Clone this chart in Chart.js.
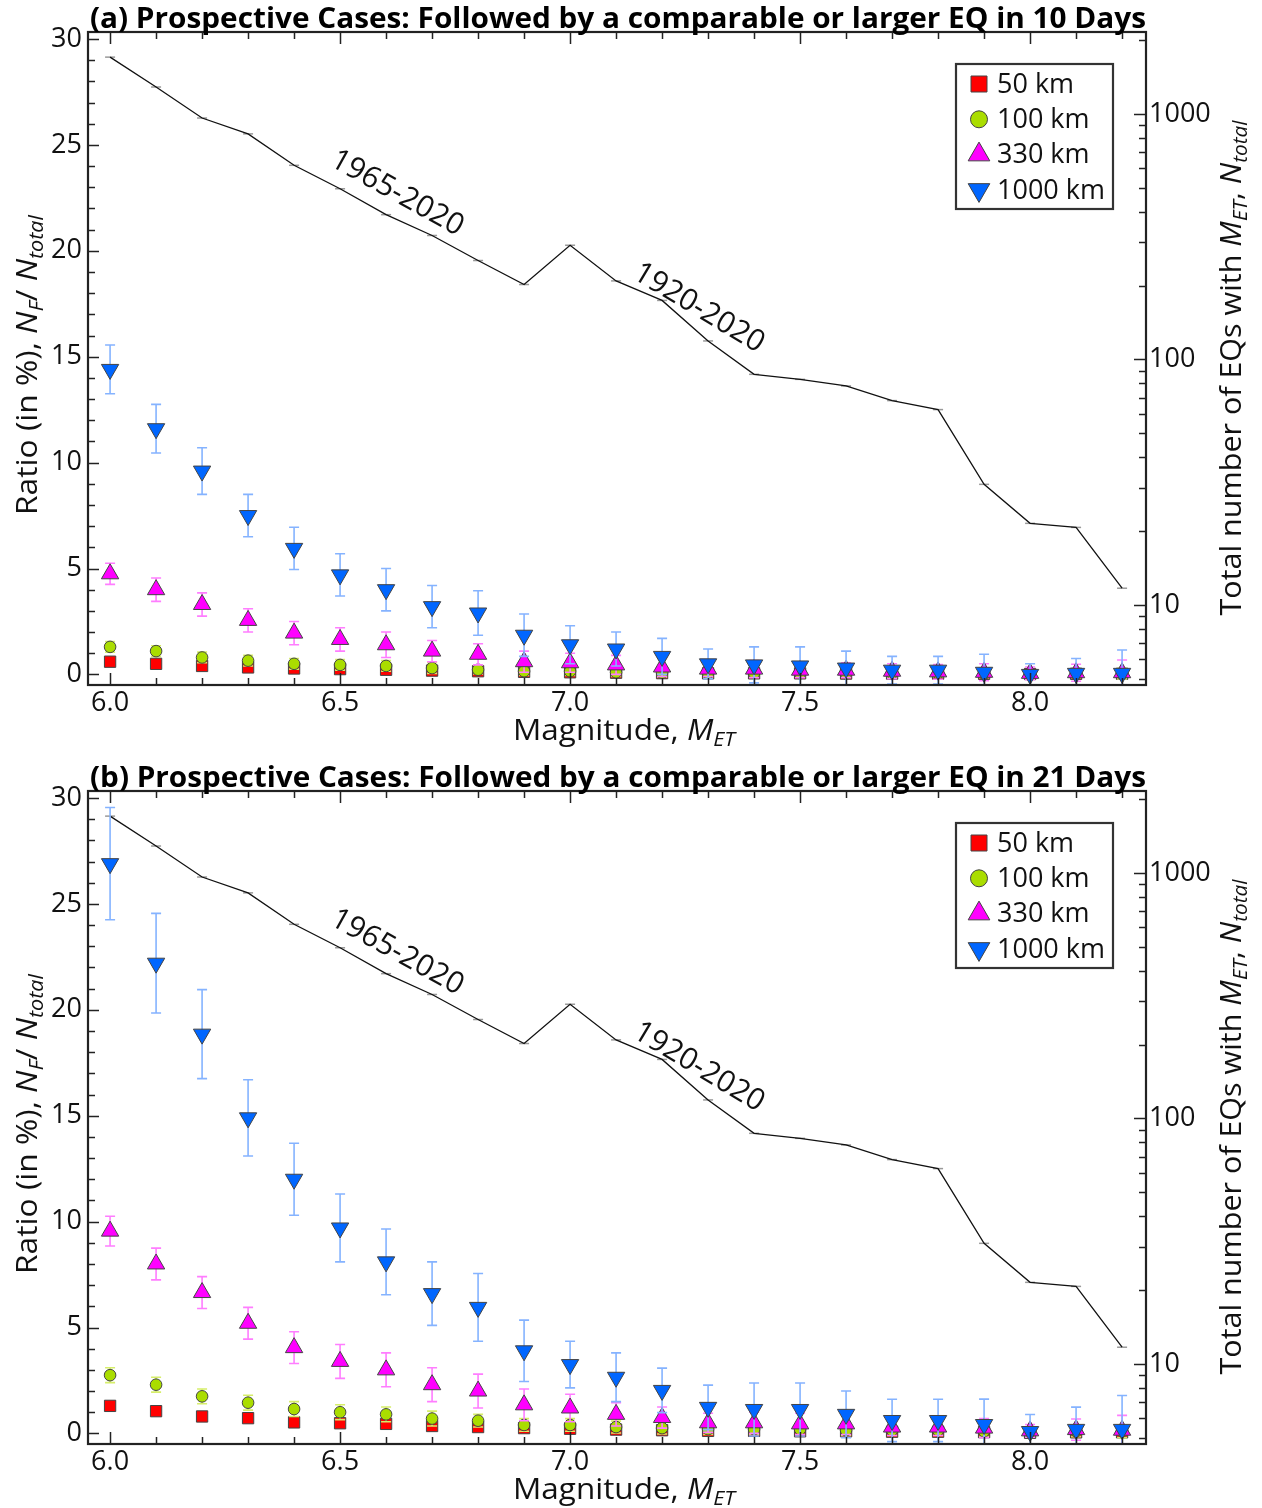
<!DOCTYPE html>
<html>
<head>
<meta charset="utf-8">
<script src="https://cdn.jsdelivr.net/npm/chart.js@4.4.1/dist/chart.umd.min.js"></script>
<style>
  body { margin: 0; background: #fff; }
  .panel { position: absolute; left: 0; width: 1262px; }
</style>
</head>
<body>
<div class="panel" style="top:0;height:759px"><canvas id="chartA"></canvas></div>
<div class="panel" style="top:759px;height:749px"><canvas id="chartB"></canvas></div>
<script>
// magnitudes (x) and tick values
const magnitudes = [6.0, 6.1, 6.2, 6.3, 6.4, 6.5, 6.6, 6.7, 6.8, 6.9, 7.0, 7.1, 7.2, 7.3, 7.4, 7.5, 7.6, 7.7, 7.8, 7.9, 8.0, 8.1, 8.2];
const xTicks = magnitudes;
const ratioTicks = [0, 1, 2, 3, 4, 5, 6, 7, 8, 9, 10, 11, 12, 13, 14, 15, 16, 17, 18, 19, 20, 21, 22, 23, 24, 25, 26, 27, 28, 29, 30];
const countTicks = [5, 6, 7, 8, 9, 10, 20, 30, 40, 50, 60, 70, 80, 90, 100, 200, 300, 400, 500, 600, 700, 800, 900, 1000, 2000];

// total number of EQs with M >= M_ET (right axis, same in both panels)
const totalCount = [1705, 1288, 963, 830, 618, 496, 389, 320, 253, 202, 292, 209, 174, 119, 87, 83, 78, 68, 62.5, 31, 21.5, 20.7, 11.7];

// (a) 10 days
const a50 = [0.6, 0.5, 0.4, 0.33, 0.28, 0.25, 0.22, 0.18, 0.15, 0.12, 0.1, 0.08, 0.06, 0.05, 0.05, 0.05, 0.04, 0.04, 0.04, 0.03, 0.02, 0.03, 0.03];
const a50Err = [0.15, 0.15, 0.14, 0.13, 0.12, 0.12, 0.12, 0.11, 0.11, 0.1, 0.1, 0.1, 0.1, 0.1, 0.1, 0.1, 0.1, 0.1, 0.1, 0.1, 0.1, 0.1, 0.1];
const a100 = [1.3, 1.1, 0.8, 0.65, 0.5, 0.45, 0.4, 0.3, 0.22, 0.15, 0.15, 0.1, 0.08, 0.07, 0.07, 0.06, 0.05, 0.05, 0.05, 0.04, 0.03, 0.04, 0.04];
const a100Err = [0.25, 0.25, 0.25, 0.25, 0.25, 0.25, 0.25, 0.25, 0.2, 0.2, 0.2, 0.2, 0.2, 0.18, 0.18, 0.18, 0.18, 0.18, 0.18, 0.2, 0.15, 0.2, 0.25];
const a330 = [4.75, 4.0, 3.3, 2.55, 1.95, 1.65, 1.4, 1.1, 0.95, 0.6, 0.55, 0.45, 0.35, 0.25, 0.25, 0.2, 0.2, 0.15, 0.12, 0.1, 0.05, 0.08, 0.08];
const a330Err = [0.5, 0.55, 0.55, 0.55, 0.55, 0.55, 0.6, 0.5, 0.5, 0.5, 0.45, 0.45, 0.45, 0.35, 0.4, 0.35, 0.35, 0.35, 0.35, 0.4, 0.3, 0.4, 0.6];
const a1000 = [14.4, 11.6, 9.6, 7.5, 5.95, 4.7, 4.0, 3.2, 2.9, 1.85, 1.4, 1.2, 0.85, 0.5, 0.45, 0.4, 0.3, 0.2, 0.2, 0.1, 0.0, 0.05, 0.05];
const a1000Err = [1.15, 1.15, 1.1, 1.0, 1.0, 1.0, 1.0, 1.0, 1.05, 1.0, 0.9, 0.8, 0.85, 0.7, 0.85, 0.9, 0.8, 0.65, 0.65, 0.85, 0.5, 0.7, 1.1];

// (b) 21 days
const b50 = [1.3, 1.05, 0.8, 0.72, 0.52, 0.48, 0.45, 0.35, 0.3, 0.25, 0.22, 0.18, 0.15, 0.12, 0.12, 0.1, 0.1, 0.08, 0.08, 0.06, 0.03, 0.05, 0.05];
const b50Err = [0.2, 0.2, 0.2, 0.2, 0.2, 0.2, 0.2, 0.2, 0.2, 0.18, 0.18, 0.18, 0.16, 0.15, 0.15, 0.15, 0.15, 0.15, 0.15, 0.15, 0.12, 0.15, 0.15];
const b100 = [2.75, 2.3, 1.75, 1.45, 1.15, 1.0, 0.9, 0.7, 0.6, 0.4, 0.4, 0.3, 0.25, 0.2, 0.2, 0.2, 0.15, 0.15, 0.15, 0.1, 0.05, 0.1, 0.1];
const b100Err = [0.35, 0.35, 0.35, 0.35, 0.35, 0.35, 0.35, 0.35, 0.3, 0.3, 0.3, 0.28, 0.28, 0.25, 0.25, 0.25, 0.25, 0.25, 0.25, 0.25, 0.2, 0.25, 0.3];
const b330 = [9.55, 8.0, 6.65, 5.2, 4.05, 3.4, 3.0, 2.3, 2.0, 1.35, 1.2, 0.9, 0.75, 0.5, 0.5, 0.45, 0.45, 0.3, 0.3, 0.25, 0.12, 0.18, 0.15];
const b330Err = [0.7, 0.75, 0.75, 0.75, 0.75, 0.8, 0.8, 0.8, 0.8, 0.75, 0.65, 0.55, 0.5, 0.45, 0.5, 0.5, 0.5, 0.4, 0.4, 0.45, 0.3, 0.5, 0.7];
const b1000 = [26.9, 22.2, 18.85, 14.9, 12.0, 9.7, 8.1, 6.6, 5.95, 3.9, 3.25, 2.65, 2.03, 1.23, 1.13, 1.13, 0.9, 0.61, 0.61, 0.42, 0.09, 0.19, 0.19];
const b1000Err = [2.65, 2.35, 2.1, 1.8, 1.7, 1.6, 1.55, 1.5, 1.6, 1.45, 1.1, 1.15, 1.05, 1.05, 1.25, 1.25, 1.1, 1.0, 1.0, 1.2, 0.8, 1.05, 1.6];

const seriesNames = ['50 km', '100 km', '330 km', '1000 km'];
const fillColors = ['#ff0000', '#aadd00', '#ff00ff', '#0066ff'];
const errColors = ['#ff7a7a', '#d6ee6a', '#ff7dff', '#85b3ff'];
const pointStyles = ['rect', 'circle', 'triangle', 'triangle'];
const pointRotations = [0, 0, 0, 180];
const pointRadii = [8, 5.8, 10, 10];

const FONT = "'Open Sans', sans-serif";
Chart.defaults.font.family = FONT;
Chart.defaults.font.size = 27;
Chart.defaults.color = '#111';

// draw a string made of normal / italic / subscript pieces, centred on (x, y),
// squeezed along its direction to the given length
function drawRich(ctx, parts, x, y, size, rot, len) {
  ctx.save();
  ctx.translate(x, y);
  ctx.rotate(rot);
  ctx.textBaseline = 'middle';
  ctx.textAlign = 'left';
  const fontOf = p => (p.i ? 'italic ' : '') + (p.sub ? size * 0.68 : size) + 'px ' + FONT;
  const widths = parts.map(p => { ctx.font = fontOf(p); return ctx.measureText(p.t).width; });
  const total = widths.reduce((s, w) => s + w, 0);
  ctx.scale(len / total, 1);
  let cx = -total / 2;
  parts.forEach((p, k) => {
    ctx.font = fontOf(p);
    ctx.fillText(p.t, cx, p.sub ? size * 0.3 : 0);
    cx += widths[k];
  });
  ctx.restore();
}

function drawMarker(ctx, k, x, y) {
  ctx.save();
  ctx.fillStyle = fillColors[k];
  ctx.strokeStyle = '#444';
  ctx.lineWidth = 1;
  ctx.beginPath();
  if (k === 0) {
    ctx.rect(x - 8, y - 8, 16, 16);
  } else if (k === 1) {
    ctx.arc(x, y, 8.5, 0, Math.PI * 2);
  } else {
    const r = 12.5, d = k === 3 ? -1 : 1;
    ctx.moveTo(x, y - d * r);
    ctx.lineTo(x + r * 0.866, y + d * r * 0.5);
    ctx.lineTo(x - r * 0.866, y + d * r * 0.5);
    ctx.closePath();
  }
  ctx.fill();
  ctx.stroke();
  ctx.restore();
}

const decor = {
  id: 'decor',
  beforeDatasetDraw(chart, args) {
    const ds = chart.data.datasets[args.index];
    const ctx = chart.ctx, a = chart.chartArea;
    const xs = chart.scales.x, ys = chart.scales[ds.yAxisID];
    ctx.save();
    ctx.beginPath();
    ctx.rect(a.left, a.top, a.right - a.left, a.bottom - a.top);
    ctx.clip();
    if (ds.errors) {
      ctx.strokeStyle = ds.errorColor;
      ctx.lineWidth = 1.6;
      ds.data.forEach((p, i) => {
        const px = xs.getPixelForValue(p.x);
        const hi = ys.getPixelForValue(p.y + ds.errors[i]);
        const lo = ys.getPixelForValue(p.y - ds.errors[i]);
        ctx.beginPath();
        ctx.moveTo(px, hi); ctx.lineTo(px, lo);
        ctx.moveTo(px - 5, hi); ctx.lineTo(px + 5, hi);
        ctx.moveTo(px - 5, lo); ctx.lineTo(px + 5, lo);
        ctx.stroke();
      });
    }
    if (ds.caps) {
      ctx.strokeStyle = '#999';
      ctx.lineWidth = 1.5;
      ds.data.forEach(p => {
        const px = xs.getPixelForValue(p.x), py = ys.getPixelForValue(p.y);
        ctx.beginPath();
        ctx.moveTo(px - 5, py); ctx.lineTo(px + 5, py);
        ctx.stroke();
      });
    }
    ctx.restore();
  },
  afterDraw(chart, args, opts) {
    const ctx = chart.ctx, a = chart.chartArea;
    const xs = chart.scales.x, ys = chart.scales.y, y2 = chart.scales.y2;
    ctx.save();
    // tick marks, pointing inward
    ctx.strokeStyle = '#222';
    ctx.lineWidth = 1.5;
    ctx.beginPath();
    xTicks.forEach(v => {
      const px = Math.round(xs.getPixelForValue(v)) + 0.5;
      const len = Math.abs(v * 2 - Math.round(v * 2)) < 1e-6 ? 12 : 7;
      ctx.moveTo(px, a.bottom); ctx.lineTo(px, a.bottom - len);
      ctx.moveTo(px, a.top); ctx.lineTo(px, a.top + len);
    });
    ratioTicks.forEach(v => {
      const py = Math.round(ys.getPixelForValue(v)) + 0.5;
      const len = v % 5 === 0 ? 11 : 7;
      ctx.moveTo(a.left, py); ctx.lineTo(a.left + len, py);
    });
    countTicks.forEach(v => {
      if (v < y2.min || v > y2.max) return;
      const py = Math.round(y2.getPixelForValue(v)) + 0.5;
      const lg = Math.log10(v);
      const len = Math.abs(lg - Math.round(lg)) < 1e-9 ? 12 : 7;
      ctx.moveTo(a.right, py); ctx.lineTo(a.right - len, py);
    });
    ctx.stroke();
    // frame
    ctx.lineWidth = 2.2;
    ctx.strokeRect(a.left, a.top, a.right - a.left, a.bottom - a.top);

    // title
    ctx.fillStyle = '#000';
    ctx.save();
    ctx.translate((a.left + a.right) / 2 + 1, a.top - 12);
    ctx.textAlign = 'center';
    ctx.textBaseline = 'middle';
    ctx.font = 'bold 29px ' + FONT;
    ctx.scale(1056 / ctx.measureText(opts.title).width, 1);
    ctx.fillText(opts.title, 0, 0);
    ctx.restore();

    // axis titles
    ctx.fillStyle = '#111';
    drawRich(ctx, [{t: 'Ratio (in %), '}, {t: 'N', i: 1}, {t: 'F', i: 1, sub: 1}, {t: '/ '}, {t: 'N', i: 1}, {t: 'total', i: 1, sub: 1}],
      28, a.top + 333, 30, -Math.PI / 2, 300);
    drawRich(ctx, [{t: 'Total number of EQs with '}, {t: 'M', i: 1}, {t: 'ET', i: 1, sub: 1}, {t: ', '}, {t: 'N', i: 1}, {t: 'total', i: 1, sub: 1}],
      1232, a.top + 336, 30, -Math.PI / 2, 495);
    drawRich(ctx, [{t: 'Magnitude, '}, {t: 'M', i: 1}, {t: 'ET', i: 1, sub: 1}],
      624, a.bottom + 46, 30, 0, 222);

    // period labels along the total-count line
    opts.notes.forEach(n => {
      ctx.save();
      ctx.translate(xs.getPixelForValue(n.x), y2.getPixelForValue(n.y));
      ctx.rotate(n.angle * Math.PI / 180);
      ctx.font = '30px ' + FONT;
      ctx.textAlign = 'center';
      ctx.textBaseline = 'middle';
      ctx.fillText(n.text, 0, 0);
      ctx.restore();
    });

    // legend box
    const lx = a.right - 190, ly = a.top + 32;
    ctx.fillStyle = '#fff';
    ctx.fillRect(lx, ly, 157, 145);
    ctx.strokeStyle = '#333';
    ctx.lineWidth = 2.2;
    ctx.strokeRect(lx, ly, 157, 145);
    seriesNames.forEach((name, k) => {
      const ry = ly + 20 + k * 35.3;
      drawMarker(ctx, k, lx + 23, ry);
      ctx.fillStyle = '#111';
      ctx.font = '27px ' + FONT;
      ctx.textAlign = 'left';
      ctx.textBaseline = 'middle';
      ctx.fillText(name, lx + 41, ry + 1);
    });
    ctx.restore();
  }
};

function makeChart(id, title, series, errors, bottomPad) {
  const datasets = [{
    label: 'total',
    data: magnitudes.map((m, i) => ({x: m, y: totalCount[i]})),
    yAxisID: 'y2',
    showLine: true,
    borderColor: '#111',
    borderWidth: 1.3,
    pointRadius: 0,
    caps: true,
    order: 5
  }];
  series.forEach((vals, k) => {
    datasets.push({
      label: seriesNames[k],
      data: magnitudes.map((m, i) => ({x: m, y: vals[i]})),
      yAxisID: 'y',
      errors: errors[k],
      errorColor: errColors[k],
      pointStyle: pointStyles[k],
      pointRotation: pointRotations[k],
      pointRadius: pointRadii[k],
      backgroundColor: fillColors[k],
      borderColor: '#444',
      borderWidth: 1,
      order: 4 - k
    });
  });
  const noGrid = {display: false, drawTicks: false};
  return new Chart(document.getElementById(id), {
    type: 'scatter',
    data: {datasets: datasets},
    plugins: [decor],
    options: {
      responsive: true,
      maintainAspectRatio: false,
      animation: false,
      events: [],
      layout: {padding: {top: 32, bottom: bottomPad, left: 0, right: 0}},
      plugins: {
        legend: {display: false},
        tooltip: {enabled: false},
        decor: {
          title: title,
          notes: [
            {text: '1965-2020', x: 6.624, y: 476, angle: 29},
            {text: '1920-2020', x: 7.28, y: 162, angle: 31}
          ]
        }
      },
      scales: {
        x: {
          type: 'linear',
          min: 5.952, max: 8.252,
          grid: noGrid,
          border: {display: false},
          afterBuildTicks: s => { s.ticks = xTicks.map(v => ({value: v})); },
          afterFit: s => { s.height = 64; },
          ticks: {
            autoSkip: false, maxRotation: 0, padding: 2,
            callback: v => Math.abs(v * 2 - Math.round(v * 2)) < 1e-6 ? v.toFixed(1) : ''
          }
        },
        y: {
          type: 'linear', position: 'left',
          min: -0.5, max: 30.33,
          grid: noGrid,
          border: {display: false},
          afterBuildTicks: s => { s.ticks = ratioTicks.map(v => ({value: v})); },
          afterFit: s => { s.width = 88; },
          ticks: {autoSkip: false, padding: 6, callback: v => v % 5 === 0 ? String(v) : ''}
        },
        y2: {
          type: 'logarithmic', position: 'right',
          min: 4.72, max: 2158,
          grid: noGrid,
          border: {display: false},
          afterBuildTicks: s => { s.ticks = countTicks.filter(v => v >= 4.72 && v <= 2158).map(v => ({value: v})); },
          afterFit: s => { s.width = 116; },
          ticks: {
            autoSkip: false, padding: 3,
            callback: v => { const lg = Math.log10(v); return v >= 10 && Math.abs(lg - Math.round(lg)) < 1e-9 ? String(v) : ''; }
          }
        }
      }
    }
  });
}

makeChart('chartA', '(a) Prospective Cases: Followed by a comparable or larger EQ in 10 Days',
  [a50, a100, a330, a1000], [a50Err, a100Err, a330Err, a1000Err], 10);
makeChart('chartB', '(b) Prospective Cases: Followed by a comparable or larger EQ in 21 Days',
  [b50, b100, b330, b1000], [b50Err, b100Err, b330Err, b1000Err], 0);
</script>
</body>
</html>
